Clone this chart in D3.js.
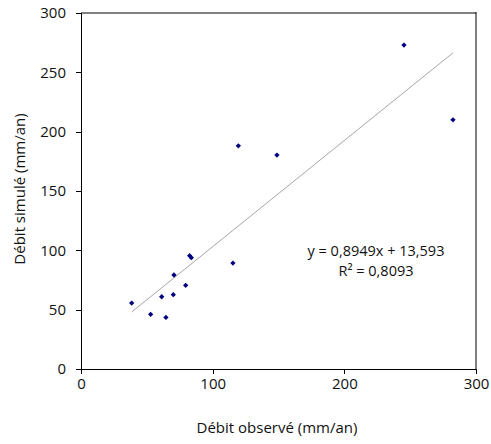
<!DOCTYPE html>
<html><head><meta charset="utf-8">
<script src="https://cdn.jsdelivr.net/npm/d3@7"></script>
<style>body{margin:0;background:#fff}svg{display:block}text{font-family:"Open Sans",sans-serif;fill:#111}</style>
</head><body>
<svg id="c" width="491" height="444"></svg>
<script>
const observed = [38.5, 52.9, 64.5, 61.3, 70.1, 70.6, 79.5, 82.5, 83.8, 115.4, 119.5, 148.8, 245.3, 282.5];
const simulated = [55.6, 46.1, 43.5, 60.9, 62.6, 79.2, 70.5, 95.5, 93.8, 89.3, 188.1, 180.3, 273.0, 210.0];
const xTicks = [0, 100, 200, 300];
const yTicks = [0, 50, 100, 150, 200, 250, 300];
const slope = 0.8949, intercept = 13.593;
const eqLabel = "y = 0,8949x + 13,593";
const r2Label = "R² = 0,8093";
const xTitle = "Débit observé (mm/an)";
const yTitle = "Débit simulé (mm/an)";

const svg = d3.select("#c");
const L = 81, R = 476, T = 13, B = 369;
const x = d3.scaleLinear().domain([0, 300]).range([L, R]);
const y = d3.scaleLinear().domain([0, 300]).range([B, T]);

// frame
svg.append("line").attr("x1", L).attr("x2", R).attr("y1", T).attr("y2", T).attr("stroke", "#808080").attr("stroke-width", 2);
svg.append("line").attr("x1", R).attr("x2", R).attr("y1", T - 1).attr("y2", B).attr("stroke", "#000").attr("stroke-width", 1);

const xa = svg.append("g").attr("transform", `translate(0,${B})`)
  .call(d3.axisBottom(x).tickValues(xTicks).tickSize(5).tickPadding(4).tickFormat(d3.format("d")));
const ya = svg.append("g").attr("transform", `translate(${L},0)`)
  .call(d3.axisLeft(y).tickValues(yTicks).tickSize(5).tickPadding(10).tickFormat(d3.format("d")));
[xa, ya].forEach(g => {
  g.selectAll("path,line").attr("stroke", "#000").attr("shape-rendering", "crispEdges");
  g.selectAll("text").attr("font-size", 15).attr("font-family", '"Open Sans",sans-serif').attr("fill", "#111");
});

// trend line
const xs = d3.extent(observed);
svg.append("line")
  .attr("x1", x(xs[0])).attr("y1", y(slope * xs[0] + intercept))
  .attr("x2", x(xs[1])).attr("y2", y(slope * xs[1] + intercept))
  .attr("stroke", "#a6a6a6").attr("stroke-width", 1);

// points
const diamond = d3.symbol().type(d3.symbolSquare).size(14);
svg.append("g").selectAll("path").data(observed.map((o, i) => [o, simulated[i]])).join("path")
  .attr("d", diamond)
  .attr("transform", d => `translate(${x(d[0])},${y(d[1])}) rotate(45)`)
  .attr("fill", "#000080");

// equation
svg.append("text").attr("x", 376).attr("y", 256).attr("text-anchor", "middle").attr("font-size", 14.5).text(eqLabel);
svg.append("text").attr("x", 376).attr("y", 276).attr("text-anchor", "middle").attr("font-size", 14.5).text(r2Label);

// titles
svg.append("text").attr("x", 277).attr("y", 433).attr("text-anchor", "middle").attr("font-size", 15).text(xTitle);
svg.append("text").attr("transform", "translate(25,189) rotate(-90)").attr("text-anchor", "middle").attr("font-size", 15).text(yTitle);
</script>
</body></html>
